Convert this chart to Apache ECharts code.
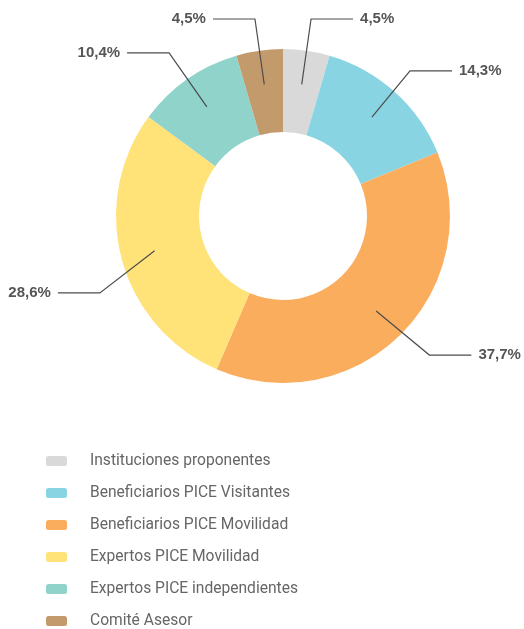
<!DOCTYPE html>
<html>
<head>
<meta charset="utf-8">
<script src="https://cdn.jsdelivr.net/npm/echarts@6/dist/echarts.min.js"></script>
<style>
  html, body { margin: 0; padding: 0; background: #fff; }
  #chart { width: 524px; height: 629px; }
</style>
</head>
<body>
<div id="chart"></div>
<script>
let categories = ['Instituciones proponentes', 'Beneficiarios PICE Visitantes', 'Beneficiarios PICE Movilidad', 'Expertos PICE Movilidad', 'Expertos PICE independientes', 'Comité Asesor'];
let values = [4.5, 14.3, 37.7, 28.6, 10.4, 4.5];
let colors = ['#d9d9da', '#88d4e2', '#fbad5e', '#ffe278', '#90d3ca', '#c39a6b'];
// pequeño desplazamiento de algunas etiquetas [dx, dy]
let labelShift = [[0, 0], [-6, 3], [7, -3], [9, 25], [0, 0], [0, 0]];

let myChart = echarts.init(document.getElementById('chart'));

function pieData(transparent) {
    return categories.map(function (name, i) {
        return {name: name, value: values[i], itemStyle: {color: transparent ? 'rgba(0,0,0,0)' : colors[i]}};
    });
}

let option = {
    animation: false,
    legend: {
        orient: 'vertical',
        left: 46,
        top: 453,
        height: 200,
        padding: 0,
        icon: 'roundRect',
        itemWidth: 21,
        itemHeight: 10,
        itemGap: 16,
        textStyle: {
            fontFamily: 'Roboto, sans-serif',
            fontSize: 15.6,
            color: '#666',
            padding: [0, 0, 0, 18]
        },
        data: categories.map(function (name, i) {
            return {name: name, itemStyle: {color: colors[i]}};
        })
    },
    series: [
        {
            type: 'pie',
            center: [283, 216],
            radius: [84, 167],
            startAngle: 90,
            clockwise: true,
            silent: true,
            z: 1,
            label: {show: false},
            labelLine: {show: false},
            data: pieData(false)
        },
        {
            // serie transparente solo para colocar las etiquetas dentro del anillo
            type: 'pie',
            center: [283, 216],
            radius: [0, 133],
            startAngle: 90,
            clockwise: true,
            silent: true,
            z: 5,
            legendHoverLink: false,
            label: {
                show: true,
                overflow: 'none',
                formatter: function (p) {
                    return p.value.toFixed(1).replace('.', ',') + '%';
                },
                fontFamily: '"Liberation Sans", Arial, sans-serif',
                fontWeight: 'bold',
                fontSize: 15,
                color: '#555',
                distanceToLabelLine: 7
            },
            labelLine: {
                show: true,
                length: 66,
                length2: 42,
                lineStyle: {color: '#4d4d4d', width: 1.2}
            },
            labelLayout: function (params) {
                let s = labelShift[params.dataIndex];
                let pts = params.labelLinePoints;
                if (!pts || (s[0] === 0 && s[1] === 0)) return {};
                return {
                    dx: s[0],
                    dy: s[1],
                    labelLinePoints: [
                        pts[0],
                        [pts[1][0] + s[0], pts[1][1] + s[1]],
                        [pts[2][0] + s[0], pts[2][1] + s[1]]
                    ]
                };
            },
            data: pieData(true)
        }
    ]
};
myChart.setOption(option);
</script>
</body>
</html>
